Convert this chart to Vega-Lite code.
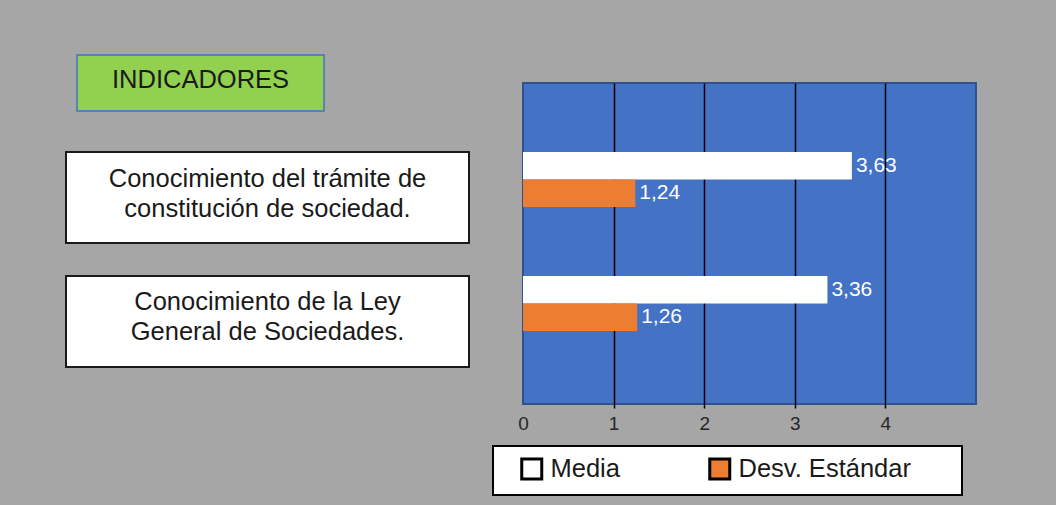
{
  "$schema": "https://vega.github.io/schema/vega-lite/v6.json",
  "background": "#a6a6a6",
  "padding": {"left": 65, "top": 54, "right": 79, "bottom": 11},
  "datasets": {
    "datos": [
      {"indicador": "Conocimiento del trámite de\nconstitución de sociedad.", "serie": "Media", "valor": 3.63},
      {"indicador": "Conocimiento del trámite de\nconstitución de sociedad.", "serie": "Desv. Estándar", "valor": 1.24},
      {"indicador": "Conocimiento de la Ley\nGeneral de Sociedades.", "serie": "Media", "valor": 3.36},
      {"indicador": "Conocimiento de la Ley\nGeneral de Sociedades.", "serie": "Desv. Estándar", "valor": 1.26}
    ],
    "encabezado": [{"titulo": "INDICADORES"}]
  },
  "hconcat": [
    {
      "vconcat": [
        {
          "data": {"name": "encabezado"},
          "width": 258,
          "height": 56,
          "encoding": {
            "x": {"field": "titulo", "type": "nominal", "axis": null, "scale": {"paddingInner": 0, "paddingOuter": 0.0223, "align": 1}}
          },
          "layer": [
            {"mark": {"type": "rect", "fill": "#92d050", "stroke": "#4472c4", "strokeWidth": 1.5}},
            {"mark": {"type": "text", "fontSize": 25.5, "font": "Liberation Sans", "color": "#1a1a1a", "dy": -3}, "encoding": {"text": {"field": "titulo"}}}
          ]
        },
        {
          "data": {"name": "datos"},
          "transform": [{"filter": "datum.serie === 'Media'"}],
          "width": 403,
          "height": 215,
          "encoding": {
            "y": {"field": "indicador", "type": "nominal", "sort": null, "axis": null, "scale": {"paddingInner": 0.266, "paddingOuter": 0}}
          },
          "layer": [
            {"mark": {"type": "rect", "fill": "#ffffff", "stroke": "#1a1a1a", "strokeWidth": 2}},
            {"mark": {"type": "text", "fontSize": 25.5, "font": "Liberation Sans", "color": "#1a1a1a", "lineBreak": "\n", "lineHeight": 30, "dy": -19}, "encoding": {"text": {"field": "indicador"}}}
          ]
        }
      ],
      "spacing": 39,
      "resolve": {"scale": {"x": "independent", "y": "independent"}}
    },
    {
      "vconcat": [
        {
          "data": {"values": []},
          "mark": "point",
          "width": 453,
          "height": 8
        },
        {
          "data": {"name": "datos"},
          "width": 453,
          "height": 321,
          "view": {"fill": "#4472c4", "stroke": "#2f528f", "strokeWidth": 2},
          "encoding": {
            "y": {"field": "indicador", "type": "nominal", "sort": null, "axis": null, "scale": {"paddingInner": 0.5, "paddingOuter": 0.5444, "align": 0.485}},
            "yOffset": {"field": "serie", "type": "nominal", "sort": ["Media", "Desv. Estándar"], "scale": {"paddingInner": 0, "paddingOuter": 0.127}},
            "x": {
              "field": "valor",
              "type": "quantitative",
              "scale": {"domain": [0, 5], "nice": false},
              "axis": {
                "values": [0, 1, 2, 3, 4],
                "title": null,
                "domain": false,
                "grid": true,
                "gridColor": {"condition": {"test": "datum.value === 0", "value": "transparent"}, "value": "#000000"},
                "gridWidth": 1.5,
                "gridOpacity": 1,
                "ticks": true,
                "tickSize": 4,
                "tickWidth": 1.5,
                "tickColor": {"condition": {"test": "datum.value === 0", "value": "transparent"}, "value": "#000000"},
                "labelFontSize": 19,
                "labelFont": "Liberation Sans",
                "labelColor": "#262626",
                "labelPadding": 6,
                "labelFlush": false
              }
            }
          },
          "layer": [
            {
              "mark": {"type": "bar"},
              "encoding": {
                "color": {
                  "field": "serie",
                  "type": "nominal",
                  "scale": {"domain": ["Media", "Desv. Estándar"], "range": ["#ffffff", "#ed7d31"]},
                  "legend": {
                    "orient": "none",
                    "legendX": -30,
                    "legendY": 391,
                    "direction": "horizontal",
                    "title": "\u00a0",
                    "titleOrient": "right",
                    "titlePadding": 41,
                    "titleFontSize": 10,
                    "symbolType": "square",
                    "symbolSize": 400,
                    "symbolStrokeColor": "#000000",
                    "symbolStrokeWidth": 3,
                    "symbolOffset": 16,
                    "symbolOpacity": 1,
                    "labelFontSize": 25.5,
                    "labelFont": "Liberation Sans",
                    "labelColor": "#1a1a1a",
                    "labelOffset": 6,
                    "labelLimit": 400,
                    "columnPadding": 71,
                    "padding": 10,
                    "fillColor": "#ffffff",
                    "strokeColor": "#000000",
                    "encode": {"legend": {"update": {"strokeWidth": {"value": 2}}}}
                  }
                }
              }
            },
            {
              "mark": {"type": "text", "align": "left", "dx": 4, "baseline": "middle", "color": "#ffffff", "fontSize": 21, "font": "Liberation Sans"},
              "encoding": {"text": {"field": "valor", "type": "quantitative", "format": ".2f"}}
            }
          ]
        }
      ],
      "spacing": 19,
      "resolve": {"scale": {"x": "independent", "y": "independent"}}
    }
  ],
  "spacing": 22,
  "resolve": {"scale": {"x": "independent", "y": "independent", "color": "independent"}},
  "config": {
    "view": {"stroke": null},
    "font": "Liberation Sans",
    "locale": {"number": {"decimal": ",", "thousands": ".", "grouping": [3], "currency": ["", " €"]}}
  }
}
